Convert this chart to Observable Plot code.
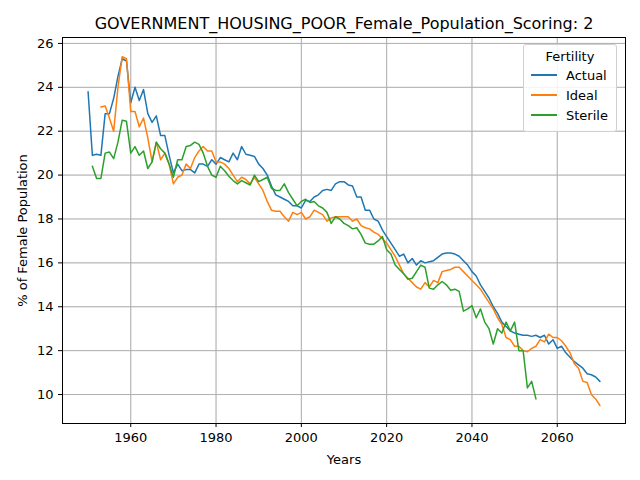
<!DOCTYPE html>
<html><head><meta charset="utf-8">
<script src="https://cdn.jsdelivr.net/npm/d3@7"></script>
<script src="https://cdn.jsdelivr.net/npm/@observablehq/plot@0.6"></script>
<style>
body{margin:0;background:#fff;font-family:"DejaVu Sans",sans-serif}
#wrap{position:relative;width:640px;height:480px}
#legend{position:absolute;left:523px;top:44px;width:92px;height:86px;border:1px solid #d0d0d0;border-radius:3px;background:rgba(255,255,255,0.85);font-size:13px;color:#000}
#legend .t{text-align:center;margin-top:4px;margin-bottom:1px}
#legend .r{display:flex;align-items:center;height:20px;margin-left:7px}
#legend .s{width:26px;height:2px;margin-right:9px}
</style></head><body>
<div id="wrap"><div id="chart"></div>
<div id="legend"><div class="t">Fertility</div>
<div class="r"><span class="s" style="background:#1f77b4"></span>Actual</div>
<div class="r"><span class="s" style="background:#ff7f0e"></span>Ideal</div>
<div class="r"><span class="s" style="background:#2ca02c"></span>Sterile</div></div></div>
<script>
const actualStart = 1950;
const actual = [23.8,20.9,20.95,20.9,22.8,22.8,23.5,24.5,25.3,25.2,23.3,24.0,23.4,23.9,22.8,22.4,22.7,21.8,21.8,20.9,
20.1,20.5,20.2,20.25,20.25,20.1,20.5,20.5,20.4,20.7,20.5,20.8,20.7,20.6,21.0,20.7,21.3,20.95,20.9,20.85,
20.5,20.3,20.0,19.5,19.1,19.0,18.9,18.8,18.6,18.6,18.5,18.85,18.8,19.0,19.1,19.3,19.35,19.3,19.6,19.7,
19.7,19.55,19.5,19.0,19.0,18.4,18.4,18.0,17.9,17.5,17.2,16.9,16.6,16.3,16.4,16.0,16.2,15.9,16.1,16.0,
16.05,16.1,16.25,16.4,16.45,16.45,16.4,16.3,16.1,15.9,15.6,15.4,15.0,14.7,14.4,14.0,13.7,13.3,13.1,12.9,
12.8,12.75,12.7,12.7,12.65,12.7,12.6,12.7,12.3,12.5,12.1,12.2,11.9,11.7,11.5,11.35,11.2,10.95,10.9,10.8,10.6];
const idealStart = 1953;
const ideal = [23.1,23.15,22.6,22.0,24.0,25.4,25.3,22.9,22.9,22.2,22.6,21.7,20.6,21.5,20.7,21.0,20.5,
19.6,19.9,20.0,20.5,20.3,20.8,21.1,21.3,21.1,21.1,20.6,20.6,20.5,20.3,20.0,19.7,19.9,19.8,19.6,19.9,
19.6,19.3,18.8,18.4,18.35,18.35,18.1,17.9,18.3,18.2,18.3,18.0,18.1,18.4,18.3,18.2,17.9,18.05,18.1,18.1,
18.1,18.1,17.9,18.0,17.7,17.6,17.55,17.4,17.3,17.1,16.9,16.6,16.3,15.9,15.5,15.3,15.1,14.9,14.8,15.1,
14.9,15.2,15.1,15.6,15.65,15.7,15.8,15.8,15.6,15.4,15.2,15.0,14.8,14.5,14.2,13.9,13.5,13.2,12.6,12.5,
12.2,12.2,12.0,11.95,12.1,12.2,12.5,12.4,12.75,12.6,12.6,12.45,12.2,11.9,11.4,11.2,10.6,10.55,10.0,9.8,9.5];
const sterileStart = 1951;
const sterile = [20.4,19.85,19.85,21.0,21.05,20.75,21.5,22.5,22.45,21.0,21.3,20.9,21.1,20.3,20.6,21.5,21.2,21.0,20.5,
19.9,20.7,20.7,21.3,21.35,21.5,21.4,21.0,20.4,20.0,19.9,20.4,20.2,19.95,19.75,19.6,19.75,19.65,19.55,20.0,
19.7,19.8,19.9,19.4,19.3,19.3,19.6,19.2,18.9,18.6,18.8,18.9,18.75,18.8,18.6,18.5,18.3,17.8,18.1,18.0,
17.8,17.7,17.55,17.6,17.3,16.9,16.85,16.85,17.0,17.2,16.6,16.4,15.9,15.7,15.5,15.25,15.3,15.6,15.9,15.8,
14.85,14.8,15.0,15.15,15.0,14.75,14.8,14.7,13.8,13.9,14.05,13.5,13.9,13.3,13.0,12.3,13.0,12.8,13.3,12.9,
13.3,12.0,12.0,10.3,10.6,9.8];

const rows = (vals, start, s) => vals.map((v, i) => ({year: start + i, v, s}));
const data = [...rows(actual, actualStart, "Actual"), ...rows(ideal, idealStart, "Ideal"), ...rows(sterile, sterileStart, "Sterile")];

const chart = Plot.plot({
  width: 640, height: 480,
  marginTop: 37, marginLeft: 62, marginRight: 15, marginBottom: 57,
  style: {fontFamily: "DejaVu Sans", fontSize: "13px", color: "#000"},
  x: {domain: [1944, 2076], ticks: [1960,1980,2000,2020,2040,2060], tickFormat: d => String(d), grid: true,
      label: "Years", labelAnchor: "center", labelArrow: "none", labelOffset: 40, tickSize: 4},
  y: {domain: [8.68, 26.27], ticks: [10,12,14,16,18,20,22,24,26], grid: true,
      label: "% of Female Population", labelAnchor: "center", labelArrow: "none", labelOffset: 45, tickSize: 4},
  color: {domain: ["Actual","Ideal","Sterile"], range: ["#1f77b4","#ff7f0e","#2ca02c"]},
  marks: [
    Plot.gridX([1960,1980,2000,2020,2040,2060], {stroke: "#b0b0b0", strokeOpacity: 1}),
    Plot.gridY([10,12,14,16,18,20,22,24,26], {stroke: "#b0b0b0", strokeOpacity: 1}),
    Plot.line(data, {x: "year", y: "v", z: "s", stroke: "s", strokeWidth: 1.5}),
    Plot.frame({stroke: "#000"}),
    Plot.text(["GOVERNMENT_HOUSING_POOR_Female_Population_Scoring: 2"], {frameAnchor: "top", dy: -9, lineAnchor: "bottom", fontSize: 16, fill: "#000"})
  ]
});
document.getElementById("chart").append(chart);
</script></body></html>
